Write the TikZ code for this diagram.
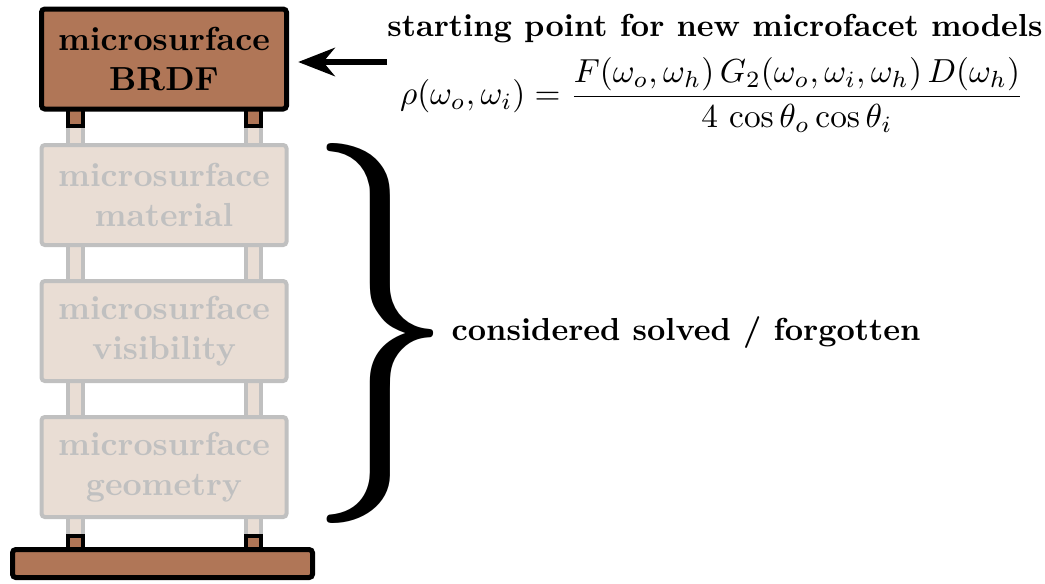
\documentclass[tikz,border=0pt]{standalone}
\usepackage{fix-cm}
\usepackage{amsmath,amssymb}
\usepackage{graphicx}
\usetikzlibrary{arrows.meta,positioning,calc,backgrounds}

\definecolor{copper}{RGB}{176,118,87}
\definecolor{fadefill}{RGB}{233,221,212}
\definecolor{fadeline}{RGB}{192,192,192}

\begin{document}
\begin{tikzpicture}[
  x=0.3pt, y=-0.3pt, font=\bfseries, node distance=10.8pt,
  layer/.style={draw=black, fill=copper, line width=1.5pt, rounded corners=1pt, minimum width=73.5pt, minimum height=30pt, align=center, inner sep=0pt, outer sep=0pt},
  faded/.style={layer, draw=fadeline, fill=fadefill, text=fadeline, line width=1.2pt},
  leg/.style={draw=black, fill=copper, line width=1.2pt},
  fadedleg/.style={leg, draw=fadeline, fill=fadefill},
  note/.style={inner sep=0pt, align=center, font=\fontsize{9.55pt}{11pt}\selectfont\bfseries},
  arr/.style={-{Stealth[length=11pt,width=8.5pt,inset=3.5pt]}, line width=1.7pt}
]
  \useasboundingbox (0,0) rectangle (1045,583);

  % the stack
  \node[layer] (brdf) at (164,59) {microsurface\\BRDF};
  \node[faded, below=of brdf] (material) {microsurface\\material};
  \node[faded, below=of material] (visib) {microsurface\\visibility};
  \node[faded, below=of visib] (geom) {microsurface\\geometry};
  \node[layer, minimum width=90pt, minimum height=8.4pt] (base) at (162.5,563.5) {};

  % legs between the layers
  \begin{scope}[on background layer]
    \foreach \s in {-89,89} {
      \draw[fadedleg] ($(brdf.south)+(\s-7.5,0)$) rectangle ($(material.north)+(\s+7.5,0)$);
      \draw[fadedleg] ($(material.south)+(\s-7.5,0)$) rectangle ($(visib.north)+(\s+7.5,0)$);
      \draw[fadedleg] ($(visib.south)+(\s-7.5,0)$) rectangle ($(geom.north)+(\s+7.5,0)$);
      \draw[fadedleg] ($(geom.south)+(\s-7.5,0)$) rectangle ($(base.north)+(\s+1.5+7.5,0)$);
      \draw[leg] ($(brdf.south)+(\s-7.5,0)$) rectangle ++(15,17);
      \draw[leg] ($(base.north)+(\s+1.5-7.5,0)$) rectangle ++(15,-14);
    }
  \end{scope}

  % model on the right
  \node[note] (title) at (715,29) {starting point for new microfacet models};
  \node[note, font=\normalfont] (formula) at (712,95)
    {$\displaystyle \rho(\omega_o,\omega_i) = \frac{F(\omega_o,\omega_h)\,G_2(\omega_o,\omega_i,\omega_h)\,D(\omega_h)}{4\,\cos\theta_o\cos\theta_i}$};
  \coordinate (arrtail) at (387,62);
  \draw[arr, shorten >=3.5pt] (arrtail) -- (brdf.east |- arrtail);

  % brace
  \node[inner sep=0pt] (brace) at (380,333) {\resizebox*{45pt}{114pt}{$\}$}};
  \node[note, right=-1.4pt of brace] (solved) {considered solved / forgotten};
\end{tikzpicture}
\end{document}
